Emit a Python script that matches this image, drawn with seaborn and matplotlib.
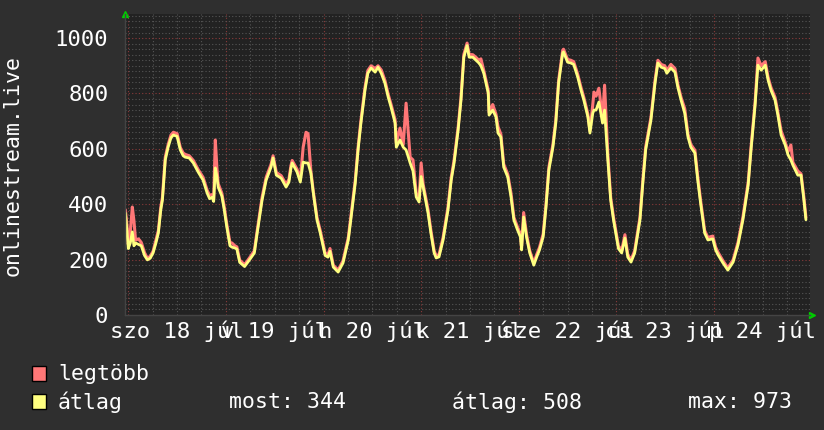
import matplotlib
matplotlib.use("Agg")
import matplotlib.pyplot as plt
import matplotlib.transforms as mtransforms
from matplotlib.patches import Rectangle
from matplotlib.ticker import MultipleLocator
import seaborn as sns

# hours since szo 18 júl 00:00
hours = [-0.7, -0.3, 0.0, 0.5, 1.0, 1.4, 1.8, 2.5, 3.2, 4.0, 4.7, 5.4, 6.1, 6.8, 7.4, 8.0, 8.4, 9.1, 9.8,
         10.5, 11.1, 12.0, 12.8, 13.5, 14.0, 15.0, 16.0, 17.2, 18.4, 19.4, 20.0, 20.6, 21.0, 21.4, 21.8,
         22.1, 23.0, 23.6, 24.2, 25.0, 25.5, 26.2, 26.7, 27.4, 28.6, 29.8, 31.0, 31.7, 32.9, 33.9, 35.1,
         35.6, 36.4, 37.6, 38.8, 39.5, 40.0, 40.3, 41.5, 42.3, 43.0, 43.7, 44.2, 44.9, 45.5, 46.4, 47.2,
         48.4, 49.1, 49.6, 50.4, 51.6, 52.8, 54.1, 54.8, 55.8, 56.5, 57.2, 58.2, 58.9, 59.7, 60.7, 61.4,
         62.2, 63.1, 63.9, 64.6, 65.6, 65.9, 66.8, 67.6, 68.3, 69.3, 70.0, 70.8, 71.5, 72.0, 72.5, 73.7,
         74.4, 75.2, 75.7, 76.4, 77.4, 78.6, 79.4, 80.1, 81.1, 81.8, 82.5, 83.3, 83.8, 84.7, 85.5, 86.2,
         86.7, 87.4, 88.5, 88.7, 89.6, 90.4, 90.9, 91.6, 92.3, 93.3, 94.1, 94.8, 95.7, 96.4, 96.7, 97.2,
         97.9, 98.7, 99.7, 100.4, 101.1, 102.0, 102.7, 103.4, 104.4, 105.1, 105.8, 106.8, 107.0, 108.0,
         108.8, 109.5, 110.5, 111.3, 112.0, 113.0, 113.5, 114.2, 114.5, 115.0, 115.7, 116.6, 117.1, 117.9,
         118.6, 119.3, 120.5, 121.3, 122.1, 122.8, 123.6, 124.5, 125.8, 126.5, 127.2, 128.5, 129.5, 130.2,
         131.0, 131.9, 132.4, 133.4, 134.4, 135.1, 135.9, 136.8, 137.6, 138.3, 139.3, 140.0, 140.7, 141.7,
         142.5, 143.7, 144.4, 145.0, 146.2, 147.4, 148.7, 149.9, 151.1, 152.4, 153.1, 154.1, 154.8, 155.6,
         156.6, 157.3, 158.0, 159.0, 159.7, 160.5, 161.5, 162.2, 162.9, 163.4, 164.6, 165.4, 166.1, 166.6]

atlag = [368, 300, 240, 260, 300, 250, 260, 255, 250, 215, 199, 205, 224, 260, 296, 380, 415, 560, 606,
         640, 650, 645, 596, 575, 570, 567, 549, 516, 487, 440, 420, 425, 410, 531, 500,
         462, 430, 380, 320, 250, 245, 242, 238, 190, 175, 199, 224, 296, 415, 487, 534,
         567, 505, 494, 462, 480, 530, 549, 516, 480, 552, 549, 549, 512, 440, 343, 296,
         215, 209, 230, 173, 155, 188, 271, 354, 476, 596, 693, 812, 873, 892, 877, 895,
         873, 837, 787, 751, 693, 606, 632, 606, 596, 549, 520, 426, 408, 500, 462, 368,
         296, 224, 206, 210, 271, 379, 487, 549, 668, 776, 931, 973, 931, 931, 920, 910,
         900, 873, 801, 722, 740, 715, 657, 643, 534, 498, 426, 343, 307, 282, 235, 354,
         282, 224, 180, 209, 235, 282, 390, 523, 606, 693, 837, 946, 950, 913,
         910, 905, 859, 812, 776, 715, 657, 729, 740, 740, 769, 693, 740, 560,
         415, 343, 240, 224, 278, 209, 191, 224, 343, 476, 596, 704, 837, 910,
         895, 890, 873, 892, 877, 823, 776, 729, 643, 606, 585, 487, 404, 296,
         271, 275, 235, 217, 188, 162, 191, 253, 343, 469, 596, 758, 902, 884,
         902, 848, 812, 776, 722, 650, 614, 578, 560, 541, 505, 505, 415, 344]

legtobb = [380, 320, 255, 300, 390, 340, 270, 275, 262, 225, 205, 212, 230, 270, 305, 390, 425, 570, 615,
           650, 660, 655, 605, 585, 580, 575, 558, 525, 497, 450, 432, 435, 420, 632, 530,
           475, 440, 390, 330, 262, 260, 250, 246, 198, 182, 206, 232, 305, 425, 497, 544,
           575, 515, 503, 472, 490, 540, 558, 526, 490, 606, 660, 655, 520, 445, 352, 305,
           224, 218, 240, 180, 162, 196, 280, 364, 486, 606, 703, 822, 883, 900, 890, 900,
           885, 847, 797, 761, 705, 620, 675, 615, 765, 570, 560, 440, 418, 549, 472, 380,
           306, 232, 214, 218, 280, 389, 497, 559, 678, 786, 941, 982, 941, 940, 930, 920,
           925, 883, 811, 732, 760, 725, 680, 653, 545, 508, 440, 353, 317, 292, 250, 370,
           292, 232, 188, 218, 244, 292, 400, 533, 616, 703, 847, 956, 960, 923,
           920, 915, 869, 822, 786, 725, 665, 760, 805, 790, 819, 710, 830, 580,
           425, 352, 250, 232, 290, 218, 199, 232, 353, 486, 606, 714, 847, 920,
           905, 900, 883, 905, 890, 833, 786, 745, 653, 616, 595, 500, 415, 305,
           280, 285, 245, 226, 196, 170, 199, 262, 353, 479, 606, 768, 928, 900,
           915, 858, 822, 786, 732, 665, 624, 590, 614, 551, 520, 510, 425, 352]

day_centers = [12, 36, 60, 84, 108, 132, 156]
day_labels = ["szo 18 júl", "v 19 júl", "h 20 júl", "k 21 júl", "sze 22 júl", "cs 23 júl", "p 24 júl"]

bg = "#2f2f2f"
plot_bg = "#222222"
red = "#ff7777"
yellow = "#ffff80"
mono = "DejaVu Sans Mono"

sns.set_style("dark")
plt.rcParams["font.family"] = [mono]

fig = plt.figure(figsize=(8.24, 4.30), dpi=100, facecolor=bg)
ax = fig.add_axes([125 / 824, 1 - 315 / 430, 685 / 824, 301 / 430])
ax.set_facecolor(plot_bg)

# grid: minor grey dots, major dark red dots
ax.xaxis.set_major_locator(MultipleLocator(24))
ax.xaxis.set_minor_locator(MultipleLocator(6))
ax.yaxis.set_major_locator(MultipleLocator(200))
ax.yaxis.set_minor_locator(MultipleLocator(20))
ax.grid(True, which="minor", color="#555555", linestyle=(0, (1, 2)), linewidth=0.8)
ax.grid(True, which="major", color="#8a3a3a", linestyle=(0, (1, 2)), linewidth=0.8)
ax.set_axisbelow(True)

sns.lineplot(x=hours, y=legtobb, ax=ax, color=red, linewidth=2.2, estimator=None, sort=False)
sns.lineplot(x=hours, y=atlag, ax=ax, color=yellow, linewidth=2.0, estimator=None, sort=False)

ax.set_xlim(-0.8, 167.6)
ax.set_ylim(0, 1087)
ax.set_xlabel("")
ax.set_ylabel("")

ax.tick_params(axis="both", which="both", length=0)
ax.tick_params(axis="y", labelsize=16, labelcolor="white", pad=12)
ax.set_xticklabels([])
ax.set_yticks([0, 200, 400, 600, 800, 1000])
ax.set_yticklabels(["0", "200", "400", "600", "800", "1000"])

for s in ["top", "right"]:
    ax.spines[s].set_visible(False)
for s in ["left", "bottom"]:
    ax.spines[s].set_color("#444444")
    ax.spines[s].set_linewidth(1)

# day labels, centered at noon (they overlap like in rrdtool)
trans = mtransforms.blended_transform_factory(ax.transData, ax.transAxes)
for xc, lab in zip(day_centers, day_labels):
    ax.text(xc, -0.055, lab, transform=trans, ha="center", va="center",
            color="white", fontsize=16, family=mono)

# green axis arrows
ax.plot([0.0], [1.0], marker="^", color="#00cc00", markersize=5, transform=ax.transAxes, clip_on=False)
ax.plot([1.003], [0.0], marker=">", color="#00cc00", markersize=5, transform=ax.transAxes, clip_on=False)

fig.text(13 / 824, 1 - 165 / 430, "onlinestream.live", rotation=90, ha="center", va="center",
         color="white", fontsize=15.5, family=mono)

# legend
for ytop, col in [(366, red), (394, yellow)]:
    fig.patches.append(Rectangle((32 / 824, 1 - (ytop + 15) / 430), 14 / 824, 15 / 430,
                                 transform=fig.transFigure, facecolor=col, edgecolor="black",
                                 linewidth=1, figure=fig))
fig.text(58 / 824, 1 - 374 / 430, "legtöbb", color="white", fontsize=15.5, va="center", family=mono)
fig.text(58 / 824, 1 - 402 / 430, "átlag", color="white", fontsize=15.5, va="center", family=mono)
fig.text(229 / 824, 1 - 402 / 430, "most: 344", color="white", fontsize=15.5, va="center", family=mono)
fig.text(452 / 824, 1 - 402 / 430, "átlag: 508", color="white", fontsize=15.5, va="center", family=mono)
fig.text(688 / 824, 1 - 402 / 430, "max: 973", color="white", fontsize=15.5, va="center", family=mono)

fig.savefig("out.png", dpi=100, facecolor=bg)
